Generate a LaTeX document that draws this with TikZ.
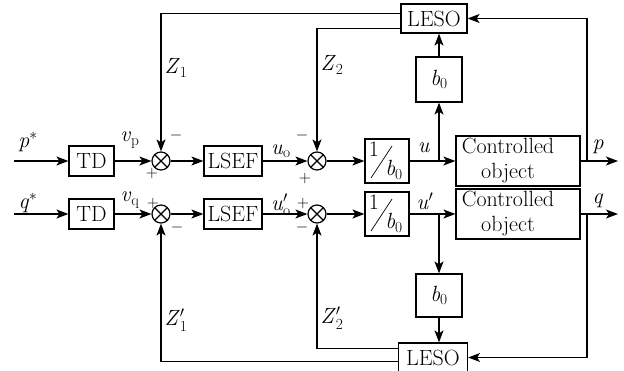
\RequirePackage{fix-cm}
\documentclass[tikz,border=0pt]{standalone}
\usepackage{amsmath}
\usepackage{fontspec}
\usetikzlibrary{arrows.meta,calc}
\newcommand\fsz{\fontsize{22}{25}\selectfont}
\newcommand\sgz{\fontsize{16}{19}\selectfont}
\newcommand\vi[1]{\textit{#1}}
\tikzset{
 blk/.style={draw, line width=1.2pt, inner sep=0pt, align=center, font=\fsz},
 sumn/.style={draw, circle, minimum size=18pt, inner sep=0pt, line width=1.2pt,
   path picture={\draw[line width=1.2pt] (path picture bounding box.north west) -- (path picture bounding box.south east)
      (path picture bounding box.north east) -- (path picture bounding box.south west);}},
 sig/.style={line width=1.2pt, -{Stealth[length=12pt,width=9pt,inset=3pt]}},
 ln/.style={line width=1.2pt},
 lbl/.style={inner sep=0pt, font=\fsz},
 sgn/.style={inner sep=0pt, font=\sgz}
}
\begin{document}
\begin{tikzpicture}[x=1pt,y=-1pt]
\useasboundingbox (0,0) rectangle (624,370);
% ---- top row
\coordinate (in1) at (14,161);
\node[blk, minimum width=45pt, minimum height=30pt] (td1) at (91.5,161) {TD};
\node[sumn] (s11) at (161,161) {};
\node[blk, minimum width=58pt, minimum height=30pt] (lsef1) at (233,161) {LSEF};
\node[sumn] (s12) at (317,161) {};
\node[blk, minimum width=44pt, minimum height=44pt] (inv1) at (387,161) {};
\node[blk, minimum width=124pt, minimum height=50pt] (pl1) at (518,161) {};
\node[lbl, align=center] (pl1t) at (508,161) {Controlled\\object};
\coordinate (ub1) at (439,161);
\coordinate (br1) at (587,161);
\coordinate (out1) at (618,161);
\node[blk, minimum width=46pt, minimum height=45pt] (b01) at (439,79.5) {\vi{b}$_{\textup{0}}$};
\node[blk, minimum width=66pt, minimum height=29pt] (leso1) at (434,18.5) {LESO};
% ---- bottom row
\coordinate (in2) at (14,214);
\node[blk, minimum width=45pt, minimum height=30pt] (td2) at (91.5,214) {TD};
\node[sumn] (s21) at (161,214) {};
\node[blk, minimum width=58pt, minimum height=30pt] (lsef2) at (233,214) {LSEF};
\node[sumn] (s22) at (317,214) {};
\node[blk, minimum width=44pt, minimum height=44pt] (inv2) at (387,214) {};
\node[blk, minimum width=124pt, minimum height=50pt] (pl2) at (518,214) {};
\node[lbl, align=center] (pl2t) at (508,214) {Controlled\\object};
\coordinate (ub2) at (439,214);
\coordinate (br2) at (587,214);
\coordinate (out2) at (618,214);
\node[blk, minimum width=46pt, minimum height=43pt] (b02) at (439,295.5) {\vi{b}$_{\textup{0}}$};
\node[blk, minimum width=69pt, minimum height=29pt] (leso2) at (433,357.5) {LESO};
% 1/b0 contents
\foreach \n in {inv1,inv2}{
  \draw[line width=0.7pt] ($(\n.center)+(-16,17)$) -- ($(\n.center)+(5,-15)$);
  \node[lbl] at ($(\n.center)+(-13,-12)$) {1};
  \node[lbl] at ($(\n.center)+(7,9)$) {\vi{b}$_{\textup{0}}$};
}
% ---- top connectors
\draw[sig] (in1) -- (td1);
\draw[sig] (td1) -- (s11);
\draw[sig] (s11) -- (lsef1);
\draw[sig] (lsef1) -- (s12);
\draw[sig] (s12) -- (inv1);
\draw[ln] (inv1) -- (ub1);
\draw[sig] (ub1) -- (pl1);
\draw[sig] (ub1) -- (b01);
\draw[sig] (b01) -- (b01.north |- leso1.south);
\draw[sig] (pl1) -- (out1);
\draw[sig] (br1) |- (leso1.east);
\draw[sig] ([yshift=5pt]leso1.west) -| (s11.north);
\draw[sig] ([yshift=-9.8pt]leso1.west) -| (s12.north);
% ---- bottom connectors
\draw[sig] (in2) -- (td2);
\draw[sig] (td2) -- (s21);
\draw[sig] (s21) -- (lsef2);
\draw[sig] (lsef2) -- (s22);
\draw[sig] (s22) -- (inv2);
\draw[ln] (inv2) -- (ub2);
\draw[sig] (ub2) -- (pl2);
\draw[sig] (ub2) -- (b02);
\draw[sig] (b02) -- (b02.south |- leso2.north);
\draw[sig] (pl2) -- (out2);
\draw[sig] (br2) |- (leso2.east);
\draw[sig] ([yshift=9pt]leso2.west) -| (s22.south);
\draw[sig] ([yshift=-4.2pt]leso2.west) -| (s21.south);
% ---- labels
\node[lbl] at (28,142) {\vi{p}$^{*}$};
\node[lbl] at (28,203) {\vi{q}$^{*}$};
\node[lbl] at (130,140) {\vi{v}$_{\textup{p}}$};
\node[lbl] at (130,200) {\vi{v}$_{\textup{q}}$};
\node[lbl] at (281,151) {\vi{u}$_{\textup{o}}$};
\node[lbl] at (281,205) {\vi{u}$'_{\textup{o}}$};
\node[lbl] at (424,148) {\vi{u}};
\node[lbl] at (425,201) {\vi{u}$'$};
\node[lbl] at (598,147) {\vi{p}};
\node[lbl] at (598,201) {\vi{q}};
\node[lbl] at (176,68) {\vi{Z}$_{\textup{1}}$};
\node[lbl] at (332,65) {\vi{Z}$_{\textup{2}}$};
\node[lbl] at (176,320) {\vi{Z}$'_{\textup{1}}$};
\node[lbl] at (332,318) {\vi{Z}$'_{\textup{2}}$};
% signs
\node[sgn] at (176,135) {$-$};
\node[sgn] at (152,173) {$+$};
\node[sgn] at (302,135) {$-$};
\node[sgn] at (305,178) {$+$};
\node[sgn] at (153,203) {$+$};
\node[sgn] at (177,227) {$-$};
\node[sgn] at (303,203) {$+$};
\node[sgn] at (302,227) {$-$};
\end{tikzpicture}
\end{document}
